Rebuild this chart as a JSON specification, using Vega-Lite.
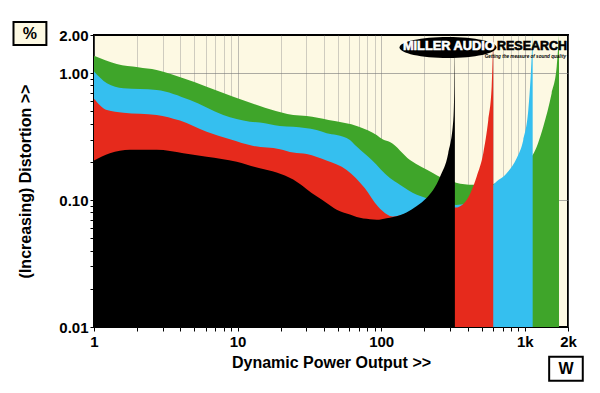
{
  "$schema": "https://vega.github.io/schema/vega-lite/v6.json",
  "width": 474,
  "height": 292,
  "autosize": {"type": "none"},
  "padding": {"left": 94, "top": 35, "right": 32, "bottom": 66},
  "background": "white",
  "config": {
    "view": {"fill": "#FDF9E3", "stroke": "black", "strokeWidth": 2},
    "font": "Liberation Sans",
    "axis": {
      "labelFont": "Liberation Sans", "labelFontWeight": "bold", "labelFontSize": 15, "labelColor": "black",
      "titleFont": "Liberation Sans", "titleFontWeight": "bold", "titleFontSize": 16, "titleColor": "black",
      "tickColor": "black", "domain": false, "labelOverlap": false, "labelFlush": false, "labelBound": false, "zindex": 1
    }
  },
  "data": {"values": [
    {"s": "green", "x": 1, "y": 1.37}, {"s": "green", "x": 1.44, "y": 1.182}, {"s": "green", "x": 2.03, "y": 1.113}, {"s": "green", "x": 2.73, "y": 1.06}, {"s": "green", "x": 4.19, "y": 0.912}, {"s": "green", "x": 6.09, "y": 0.783}, {"s": "green", "x": 9.33, "y": 0.653}, {"s": "green", "x": 14.3, "y": 0.552}, {"s": "green", "x": 16.8, "y": 0.52}, {"s": "green", "x": 24.4, "y": 0.469}, {"s": "green", "x": 30.3, "y": 0.46}, {"s": "green", "x": 43, "y": 0.428}, {"s": "green", "x": 70, "y": 0.379}, {"s": "green", "x": 93, "y": 0.326}, {"s": "green", "x": 103, "y": 0.3}, {"s": "green", "x": 115, "y": 0.287}, {"s": "green", "x": 158.7, "y": 0.207}, {"s": "green", "x": 230.6, "y": 0.163}, {"s": "green", "x": 257, "y": 0.152}, {"s": "green", "x": 290, "y": 0.145}, {"s": "green", "x": 320, "y": 0.14}, {"s": "green", "x": 332, "y": 0.137}, {"s": "green", "x": 438, "y": 0.132}, {"s": "green", "x": 603, "y": 0.134}, {"s": "green", "x": 748, "y": 0.15}, {"s": "green", "x": 878, "y": 0.17}, {"s": "green", "x": 976, "y": 0.19}, {"s": "green", "x": 1058, "y": 0.21}, {"s": "green", "x": 1135, "y": 0.227}, {"s": "green", "x": 1345, "y": 0.379}, {"s": "green", "x": 1539, "y": 0.695}, {"s": "green", "x": 1668, "y": 1.125}, {"s": "green", "x": 1731, "y": 2},
    {"s": "cyan", "x": 1, "y": 1.03}, {"s": "cyan", "x": 1.23, "y": 0.833}, {"s": "cyan", "x": 1.6, "y": 0.761}, {"s": "cyan", "x": 2.73, "y": 0.738}, {"s": "cyan", "x": 4.66, "y": 0.615}, {"s": "cyan", "x": 7.95, "y": 0.469}, {"s": "cyan", "x": 12.2, "y": 0.415}, {"s": "cyan", "x": 14.3, "y": 0.408}, {"s": "cyan", "x": 19.7, "y": 0.384}, {"s": "cyan", "x": 24.4, "y": 0.379}, {"s": "cyan", "x": 35.5, "y": 0.357}, {"s": "cyan", "x": 41.7, "y": 0.337}, {"s": "cyan", "x": 49, "y": 0.326}, {"s": "cyan", "x": 60.6, "y": 0.298}, {"s": "cyan", "x": 67.5, "y": 0.264}, {"s": "cyan", "x": 86, "y": 0.207}, {"s": "cyan", "x": 115, "y": 0.149}, {"s": "cyan", "x": 135, "y": 0.132}, {"s": "cyan", "x": 177, "y": 0.11}, {"s": "cyan", "x": 207, "y": 0.1036}, {"s": "cyan", "x": 230, "y": 0.1}, {"s": "cyan", "x": 260, "y": 0.097}, {"s": "cyan", "x": 300, "y": 0.094}, {"s": "cyan", "x": 332, "y": 0.0917}, {"s": "cyan", "x": 394, "y": 0.095}, {"s": "cyan", "x": 462, "y": 0.105}, {"s": "cyan", "x": 514, "y": 0.118}, {"s": "cyan", "x": 557, "y": 0.127}, {"s": "cyan", "x": 603, "y": 0.132}, {"s": "cyan", "x": 610, "y": 0.134}, {"s": "cyan", "x": 748, "y": 0.163}, {"s": "cyan", "x": 878, "y": 0.214}, {"s": "cyan", "x": 976, "y": 0.298}, {"s": "cyan", "x": 1058, "y": 0.513}, {"s": "cyan", "x": 1099, "y": 0.939}, {"s": "cyan", "x": 1135, "y": 2},
    {"s": "red", "x": 1, "y": 0.63}, {"s": "red", "x": 1.23, "y": 0.513}, {"s": "red", "x": 1.6, "y": 0.489}, {"s": "red", "x": 2.73, "y": 0.469}, {"s": "red", "x": 3.97, "y": 0.423}, {"s": "red", "x": 6.09, "y": 0.346}, {"s": "red", "x": 8.85, "y": 0.302}, {"s": "red", "x": 12.9, "y": 0.267}, {"s": "red", "x": 19.7, "y": 0.252}, {"s": "red", "x": 24.4, "y": 0.237}, {"s": "red", "x": 30.3, "y": 0.231}, {"s": "red", "x": 42, "y": 0.204}, {"s": "red", "x": 57.5, "y": 0.173}, {"s": "red", "x": 77, "y": 0.124}, {"s": "red", "x": 95, "y": 0.089}, {"s": "red", "x": 110, "y": 0.077}, {"s": "red", "x": 120, "y": 0.0742}, {"s": "red", "x": 150, "y": 0.0785}, {"s": "red", "x": 200, "y": 0.084}, {"s": "red", "x": 260, "y": 0.086}, {"s": "red", "x": 320, "y": 0.087}, {"s": "red", "x": 332, "y": 0.0873}, {"s": "red", "x": 394, "y": 0.1004}, {"s": "red", "x": 462, "y": 0.153}, {"s": "red", "x": 514, "y": 0.234}, {"s": "red", "x": 557, "y": 0.428}, {"s": "red", "x": 588, "y": 0.783}, {"s": "red", "x": 603, "y": 2},
    {"s": "black", "x": 1, "y": 0.205}, {"s": "black", "x": 1.29, "y": 0.234}, {"s": "black", "x": 1.78, "y": 0.249}, {"s": "black", "x": 2.73, "y": 0.249}, {"s": "black", "x": 4.19, "y": 0.234}, {"s": "black", "x": 6.09, "y": 0.22}, {"s": "black", "x": 9.86, "y": 0.201}, {"s": "black", "x": 14.3, "y": 0.178}, {"s": "black", "x": 18.7, "y": 0.165}, {"s": "black", "x": 24.4, "y": 0.145}, {"s": "black", "x": 30.3, "y": 0.122}, {"s": "black", "x": 35.5, "y": 0.107}, {"s": "black", "x": 41.7, "y": 0.095}, {"s": "black", "x": 49, "y": 0.084}, {"s": "black", "x": 60.6, "y": 0.077}, {"s": "black", "x": 67.5, "y": 0.0735}, {"s": "black", "x": 83.6, "y": 0.0707}, {"s": "black", "x": 93, "y": 0.07}, {"s": "black", "x": 109, "y": 0.072}, {"s": "black", "x": 135, "y": 0.076}, {"s": "black", "x": 150, "y": 0.08}, {"s": "black", "x": 177, "y": 0.09}, {"s": "black", "x": 207, "y": 0.104}, {"s": "black", "x": 230, "y": 0.12}, {"s": "black", "x": 257, "y": 0.153}, {"s": "black", "x": 293, "y": 0.234}, {"s": "black", "x": 318, "y": 0.43}, {"s": "black", "x": 323, "y": 0.8}, {"s": "black", "x": 326, "y": 2}
  ]},
  "layer": [
    {
      "transform": [{"filter": "datum.s === 'green'"}],
      "mark": {"type": "area", "color": "#3FA52A", "interpolate": "monotone", "clip": true},
      "encoding": {
        "x": {"field": "x", "type": "quantitative", "scale": {"type": "log", "domain": [1, 2000], "nice": false},
          "axis": {"values": [1,2,3,4,5,6,7,8,9,10,20,30,40,50,60,70,80,90,100,200,300,400,500,600,700,800,900,1000,2000],
            "labelExpr": "datum.value==1?'1':datum.value==10?'10':datum.value==100?'100':datum.value==1000?'1k':datum.value==2000?'2k':''",
            "title": "Dynamic Power Output >>", "tickSize": 4, "labelPadding": 3, "titlePadding": 5,
            "grid": true, "gridColor": "#8a8a8a",
            "gridOpacity": {"condition": {"test": "datum.value==10||datum.value==100||datum.value==1000", "value": 0.55}, "value": 0.4}}},
        "y": {"field": "y", "type": "quantitative", "scale": {"type": "log", "domain": [0.01, 2], "nice": false},
          "axis": {"values": [0.01,0.02,0.03,0.04,0.05,0.06,0.07,0.08,0.09,0.1,0.2,0.3,0.4,0.5,0.6,0.7,0.8,0.9,1,2],
            "labelExpr": "datum.value==2?'2.00':datum.value==1?'1.00':datum.value==0.1?'0.10':datum.value==0.01?'0.01':''",
            "title": "(Increasing) Distortion >>", "tickSize": 4, "labelPadding": 2, "titlePadding": 25,
            "grid": true, "gridColor": "#777777",
            "gridOpacity": {"condition": {"test": "datum.value==1||datum.value==0.1", "value": 0.6}, "value": 0}}},
        "y2": {"datum": 0.01}
      }
    },
    {
      "transform": [{"filter": "datum.s === 'cyan'"}],
      "mark": {"type": "area", "color": "#35BFEF", "interpolate": "monotone", "clip": true},
      "encoding": {"x": {"field": "x", "type": "quantitative"}, "y": {"field": "y", "type": "quantitative"}, "y2": {"datum": 0.01}}
    },
    {
      "transform": [{"filter": "datum.s === 'red'"}],
      "mark": {"type": "area", "color": "#E62A1C", "interpolate": "monotone", "clip": true},
      "encoding": {"x": {"field": "x", "type": "quantitative"}, "y": {"field": "y", "type": "quantitative"}, "y2": {"datum": 0.01}}
    },
    {
      "transform": [{"filter": "datum.s === 'black'"}],
      "mark": {"type": "area", "color": "#000000", "interpolate": "monotone", "clip": true},
      "encoding": {"x": {"field": "x", "type": "quantitative"}, "y": {"field": "y", "type": "quantitative"}, "y2": {"datum": 0.01}}
    },
    {
      "data": {"values": [{}]},
      "mark": {"type": "point", "filled": true, "color": "black", "opacity": 1, "size": 9409,
        "shape": "M-1,0C-1,-0.1193,-0.5523,-0.216,0,-0.216C0.5523,-0.216,1,-0.1193,1,0C1,0.1193,0.5523,0.216,0,0.216C-0.5523,0.216,-1,0.1193,-1,0Z"},
      "encoding": {"x": {"datum": 292}, "y": {"datum": 1.594}}
    },
    {
      "data": {"values": [{}]},
      "mark": {"type": "text", "text": "MILLER AUDIO", "color": "white", "stroke": "white", "strokeWidth": 0.6, "font": "Liberation Sans", "fontWeight": "bold", "fontSize": 12.8, "align": "center", "baseline": "middle"},
      "encoding": {"x": {"datum": 296}, "y": {"datum": 1.638}}
    },
    {
      "data": {"values": [{}]},
      "mark": {"type": "text", "text": "RESEARCH", "color": "black", "stroke": "black", "strokeWidth": 0.6, "font": "Liberation Sans", "fontWeight": "bold", "fontSize": 12.5, "align": "left", "baseline": "middle"},
      "encoding": {"x": {"datum": 640}, "y": {"datum": 1.638}}
    },
    {
      "data": {"values": [{}]},
      "mark": {"type": "text", "text": "Getting the measure of sound quality", "color": "black", "font": "Liberation Sans", "fontWeight": "bold", "fontStyle": "italic", "fontSize": 4.6, "align": "right", "baseline": "middle"},
      "encoding": {"x": {"datum": 1936}, "y": {"datum": 1.342}}
    },
    {
      "data": {"values": [{}]},
      "mark": {"type": "point", "filled": true, "fill": "#FDF9E3", "stroke": "black", "strokeWidth": 2, "opacity": 1, "size": 529,
        "shape": "M-1.43,-1L1.43,-1L1.43,1L-1.43,1Z"},
      "encoding": {"x": {"datum": 0.358}, "y": {"datum": 2.055}}
    },
    {
      "data": {"values": [{}]},
      "mark": {"type": "text", "text": "%", "color": "black", "font": "Liberation Sans", "fontWeight": "bold", "fontSize": 16, "align": "center", "baseline": "middle"},
      "encoding": {"x": {"datum": 0.358}, "y": {"datum": 2.055}}
    },
    {
      "data": {"values": [{}]},
      "mark": {"type": "point", "filled": true, "fill": "white", "stroke": "black", "strokeWidth": 2, "opacity": 1, "size": 576,
        "shape": "M-1.4,-1L1.4,-1L1.4,1L-1.4,1Z"},
      "encoding": {"x": {"datum": 1936}, "y": {"datum": 0.00469}}
    },
    {
      "data": {"values": [{}]},
      "mark": {"type": "text", "text": "W", "color": "black", "font": "Liberation Sans", "fontWeight": "bold", "fontSize": 16, "align": "center", "baseline": "middle"},
      "encoding": {"x": {"datum": 1936}, "y": {"datum": 0.00469}}
    }
  ]
}
